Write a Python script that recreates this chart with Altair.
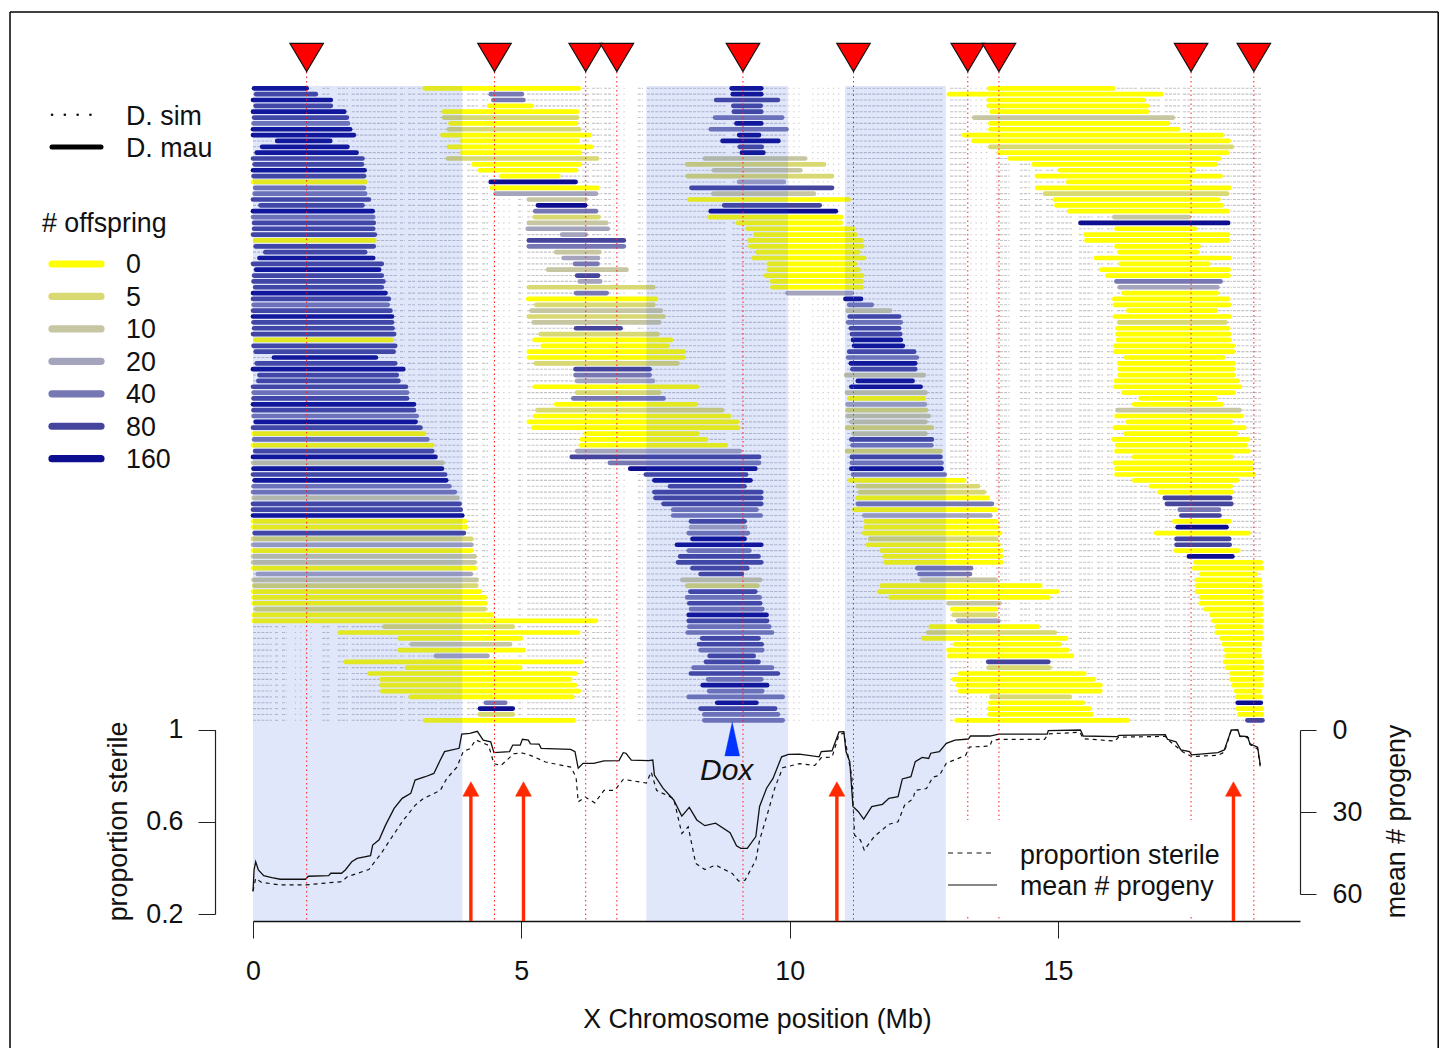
import altair as alt
import pandas as pd

FONT = "Liberation Sans"
FS = 26.8

# genotype blocks per backcross line (start Mb, end Mb, # offspring class)
BLOCK_A = [(0.02,1.0,160),(0.06,1.17,80),(0,1.45,160),(0.05,1.45,80),(0,1.70,160),(0.02,1.75,80),(0.01,1.77,40),(0,1.81,160),(0,1.88,160),(0.45,1.44,160),
(0.17,1.76,160),(0.07,1.93,160),(0,2.04,80),(0.03,2.03,80),(0,2.08,160),(0.01,2.07,80),(0,2.09,0),(0.04,2.07,40),(0.03,2.09,40),(0,2.16,80),
(0.14,2.04,80),(0,2.23,160),(0,2.24,40),(0.02,2.25,80),(0.02,2.24,80),(0,2.27,80),(0.04,2.26,0),(0.05,2.25,80),(0.23,2.09,80),(0.12,2.24,160),
(0,2.40,80),(0.06,2.35,160),(0.02,2.40,80),(0.01,2.43,80),(0.04,2.40,80),(0,2.47,160),(0,2.53,80),(0.01,2.51,40),(0,2.56,80),(0,2.59,160),
(0.01,2.59,80),(0.02,2.60,80),(0,2.63,80),(0.05,2.58,0),(0.01,2.65,80),(0.05,2.62,80),(0.39,2.29,160),(0.07,2.65,80),(0,2.80,160),(0.12,2.68,80),
(0.10,2.71,80),(0,2.85,80),(0.01,2.87,40),(0.01,2.87,80),(0,3.0,160),(0.01,3.0,80),(0.01,3.05,40),(0.05,3.03,160),(0,3.12,80),(0.01,3.19,0),
(0.02,3.25,40),(0,3.34,0),(0.04,3.34,80),(0,3.40,160),(0,3.53,10),(0.01,3.52,160),(0,3.58,80),(0.03,3.60,160),(0.01,3.66,40),(0,3.76,40),
(0.01,3.81,10),(0,3.85,80),(0,3.87,80),(0,3.90,160),(0,3.95,0),(0,3.97,0),(0.03,3.93,80),(0,4.07,5),(0,4.07,20),(0,4.07,0),
(0,4.13,10),(0,4.13,10),(0,4.13,0),(0.09,4.06,20),(0.01,4.17,10),(0.02,4.16,5),(0,4.23,0),(0.01,4.32,0),(0.01,4.33,0),(0.06,4.32,5),
(0.01,4.45,0),(0.01,6.39,0),(2.45,4.84,5),(1.62,6.06,0),(2.73,4.99,0),(2.96,4.79,10),(2.73,5.04,0),(3.41,4.37,20),(1.73,6.11,0),(2.87,4.98,0),
(2.17,6.01,0),(2.39,5.91,0),(2.39,6.0,0),(2.41,6.07,0),(2.94,5.95,0),(4.34,4.70,40),(4.23,4.84,160),(4.23,4.84,5),(3.21,5.98,0)]

BLOCK_B = [(3.2,6.07,0),(4.43,5.01,40),(4.48,5.04,40),(4.40,5.18,0),(3.56,6.04,0),(3.56,6.04,5),(3.68,6.02,0),(3.65,6.08,5),(3.53,6.27,0),(3.9,6.05,0),
(3.65,6.31,0),(3.9,6.09,0),(3.63,6.41,5),(4.11,6.09,0),(4.23,6.02,0),(4.63,5.69,0),(4.43,6.01,160),(4.45,6.42,0),(4.52,6.39,20),(5.14,6.2,10),
(5.31,6.19,160),(5.26,6.39,40),(5.25,6.44,5),(5.14,6.58,10),(5.12,6.61,20),(5.76,6.2,20),(5.14,6.91,80),(5.14,6.91,40),(5.65,6.45,10),(5.79,6.43,20),
(6.0,6.42,40),(5.5,6.96,10),(6.04,6.43,80),(6.09,6.47,20),(5.14,7.46,5),(6.02,6.59,40),(5.13,7.51,0),(5.28,7.46,5),(5.19,7.6,10),(5.14,7.65,5),
(5.23,7.57,10),(6.02,6.85,80),(5.36,7.54,5),(5.25,7.79,0),(5.4,7.72,0),(5.14,8.02,0),(5.14,8.02,0),(5.27,7.91,5),(6.01,7.39,80),(6.01,7.39,40),
(6.04,7.45,20),(5.25,8.27,0),(6.04,7.57,5),(5.97,7.65,40),(5.65,8.25,0),(5.3,8.74,5),(5.26,8.87,0),(5.14,9.02,0),(5.22,9.04,0),(6.2,8.28,0),
(6.13,8.44,0),(6.11,8.81,0),(6.04,9.07,20),(5.94,9.43,80),(6.65,9.43,40),(7.03,9.36,160),(7.32,9.19,80),(7.48,9.27,160),(7.77,9.16,80),(7.48,9.47,80),
(7.5,9.47,80),(7.65,9.47,80),(7.83,9.38,40),(7.83,9.46,40),(8.16,9.16,80),(8.16,9.17,20),(8.12,9.22,40),(8.19,9.16,160),(7.9,9.47,160),(8.12,9.25,40),
(7.96,9.42,80),(7.92,9.47,80),(8.19,9.21,80),(8.34,9.11,80),(8.0,9.45,10),(8.09,9.4,5),(8.15,9.36,80),(8.09,9.44,40),(8.13,9.45,80),(8.16,9.49,40),
(8.12,9.57,160),(8.12,9.58,80),(8.13,9.62,40),(8.1,9.67,40),(8.37,9.42,80),(8.31,9.48,80),(8.34,9.49,40),(8.51,9.33,80),(8.44,9.42,80),(8.21,9.67,40),
(8.16,9.78,80),(8.48,9.47,40),(8.38,9.58,160),(8.5,9.49,40),(8.12,9.87,40),(8.65,9.38,160),(8.34,9.73,80),(8.41,9.78,40),(8.41,9.87,40)]

BLOCK_C = [(8.92,9.47,160),(8.94,9.47,160),(8.63,9.78,80),(8.95,9.46,80),(8.96,9.47,80),(8.61,9.86,40),(9.01,9.47,160),(8.53,9.94,40),(9.06,9.43,160),(8.75,9.79,160),
(9.07,9.48,80),(9.11,9.51,160),(8.42,10.29,10),(8.09,10.64,5),(8.59,10.2,10),(8.10,10.79,5),(9.06,9.89,20),(8.17,10.79,80),(8.58,10.45,10),(8.13,11.1,0),
(8.78,10.56,80),(8.53,10.86,160),(8.51,10.96,0),(9.04,10.95,0),(9.22,11.18,0),(9.36,11.23,0),(9.25,11.34,0),(9.27,11.35,0),(9.4,11.28,0),(9.33,11.39,0),
(9.61,11.22,0),(9.61,11.28,0),(9.56,11.35,0),(9.67,11.34,0),(9.68,11.34,0),(9.96,11.16,20),(11.04,11.33,160),(11.11,11.53,40),(11.08,11.87,10),(11.12,12.04,80),
(11.09,12.07,40),(11.14,12.04,80),(11.16,12.06,80),(11.18,12.07,160),(11.2,12.11,160),(11.11,12.32,80),(11.09,12.37,40),(11.14,12.34,160),(11.17,12.34,80),(11.05,12.5,10),
(11.27,12.29,160),(11.15,12.44,160),(11.07,12.53,10),(11.12,12.5,0),(11.08,12.52,20),(11.08,12.54,5),(11.08,12.59,10),(11.15,12.53,10),(11.07,12.65,5),(11.19,12.53,10),
(11.15,12.65,80),(11.17,12.64,40),(11.07,12.81,5),(11.16,12.81,80),(11.16,12.83,40),(11.15,12.83,160),(11.18,12.89,40),(11.13,13.25,0),(11.27,13.51,5),(11.31,13.62,5),
(11.27,13.69,0),(11.27,13.77,40),(11.21,13.84,0),(11.39,13.74,20),(11.42,13.85,0),(11.42,13.87,0),(11.39,13.92,0),(11.5,13.85,5),(11.46,13.89,0),(11.72,13.94,0),
(11.77,13.94,0),(11.79,13.94,0),(12.38,13.38,40),(12.42,13.36,40),(12.46,13.84,10),(11.72,14.67,0),(11.67,14.99,0),(11.88,14.82,0),(12.96,13.91,10),(13.03,13.84,0),
(13.06,13.83,5),(13.14,13.89,20),(12.63,14.62,0),(12.58,14.94,5),(12.49,15.15,0),(13.08,15.03,0),(12.96,15.17,0),(12.97,15.26,0),(13.70,14.82,80),(13.71,14.84,5),
(13.17,15.49,0),(13.06,15.67,0),(13.14,15.79,0),(13.17,15.79,0),(13.76,15.22,5),(13.74,15.46,0),(13.72,15.58,0),(13.73,15.62,0),(13.11,16.3,0)]

BLOCK_D = [(13.72,16.03,0),(12.97,16.92,0),(13.71,16.59,0),(13.71,16.66,0),(13.76,16.66,0),(13.44,17.14,10),(13.74,17.05,0),(13.74,17.24,0),(13.25,18.06,0),(13.43,18.18,0),
(13.74,18.24,5),(13.9,18.15,0),(14.1,18.0,0),(14.55,17.94,0),(15.04,17.52,0),(14.61,18.03,0),(15.19,17.46,0),(14.61,18.19,0),(14.76,18.15,5),(14.94,17.99,0),
(14.97,18.05,0),(15.21,18.16,0),(16.05,17.44,10),(15.42,18.17,160),(16.09,17.55,0),(15.51,18.17,0),(15.53,18.17,0),(16.09,17.62,0),(16.15,17.59,0),(15.71,18.19,0),
(16.17,17.8,0),(15.81,18.18,0),(15.92,18.18,0),(16.09,18.03,40),(16.15,17.97,20),(16.22,17.96,0),(16.05,18.17,0),(16.06,18.19,0),(16.31,17.94,0),(16.06,18.2,0),
(16.14,18.12,5),(16.11,18.17,0),(16.11,18.19,0),(16.12,18.2,0),(16.07,18.26,0),(16.07,18.26,0),(16.27,18.08,0),(16.14,18.27,0),(16.15,18.26,0),(16.15,18.27,0),
(16.08,18.34,0),(16.07,18.39,0),(16.22,18.27,0),(16.54,17.93,0),(16.42,18.05,0),(16.11,18.38,10),(16.09,18.42,0),(16.3,18.22,0),(16.06,18.47,0),(16.26,18.32,0),
(16.04,18.54,0),(16.1,18.5,0),(16.09,18.55,0),(16.42,18.23,0),(16.06,18.6,0),(16.09,18.61,0),(16.09,18.65,0),(16.42,18.34,0),(16.73,18.22,0),(16.9,18.23,0),
(16.99,18.21,80),(17.03,18.23,80),(17.27,18.0,40),(17.3,18.01,80),(17.17,18.19,0),(17.23,18.14,160),(16.83,18.55,0),(17.21,18.19,80),(17.21,18.2,80),(17.2,18.36,0),
(17.44,18.25,160),(17.56,18.78,0),(17.54,18.8,0),(17.67,18.69,0),(17.59,18.76,0),(17.59,18.77,0),(17.59,18.78,0),(17.67,18.78,0),(17.66,18.78,0),(17.75,18.8,0),
(17.86,18.78,0),(17.9,18.8,0),(17.96,18.78,0),(17.96,18.78,0),(18.05,18.8,0),(18.09,18.76,0),(18.13,18.76,0),(18.14,18.76,0),(18.11,18.8,0),(18.15,18.8,0),
(18.23,18.78,0),(18.23,18.78,0),(18.27,18.8,0),(18.32,18.76,0),(18.34,18.78,0),(18.35,18.78,160),(18.35,18.8,0),(18.38,18.8,0),(18.53,18.81,80)]

# D. sim marker clusters (Mb)
DENSE = [(0,.35),(.41,.47),(.54,.63),(1.29,1.43),(1.58,1.77),(1.84,2.68),(2.74,2.83),(2.89,3.02),(3.07,3.43),(3.48,3.91),(3.99,4.19),(4.27,4.38),
(4.94,5.03),(5.11,6.09),(6.13,6.28),(6.32,6.5),(6.54,6.69),(7.17,7.27),(7.34,8.83),(8.93,9.95),(11.07,12.86),(12.99,13.27),(13.84,14.1),(14.29,14.48),
(14.57,14.72),(14.78,14.94),(14.98,15.26),(15.39,15.65),(15.73,15.84),(15.91,16.02),(16.1,16.49),(16.53,16.9),(16.99,17.27),(17.33,17.46),(17.51,17.78),(17.83,18.24),(18.26,18.8)]
SPARSE = [(.78,1.16),(4.47,4.81),(6.71,6.97),(9.97,10.25),(10.42,10.99),(13.27,13.73)]

SHADES = [(0,3.9),(7.33,9.97),(11.03,12.91)]
MARKERS_FULL = [1.0,4.5,6.2,6.78,9.13,11.19,18.65]
MARKERS_CUT = [13.32,13.9,17.48]
ARROWS = [4.06,5.04,10.88,18.27]
DOX = [8.93]

PROGENY_X = [0,.02,.05,.10,.20,.35,.51,.98,1.03,1.41,1.45,1.65,1.72,1.84,1.94,2.19,2.23,2.35,2.47,2.63,2.78,2.94,3.02,3.21,3.37,3.49,3.57,3.84,3.89,4.04,4.18,4.29,4.43,4.49,4.78,4.84,4.98,5.02,5.13,5.17,5.33,5.37,5.92,6.0,6.06,6.15,6.35,6.54,6.82,6.9,6.95,7.05,7.37,7.45,7.48,7.64,7.84,7.99,8.13,8.27,8.42,8.62,8.89,9.01,9.09,9.21,9.37,9.44,9.57,9.69,9.85,9.98,10.18,10.55,10.59,10.79,10.92,11.01,11.05,11.12,11.18,11.28,11.38,11.53,11.73,11.85,12.02,12.1,12.26,12.34,12.47,12.59,12.63,12.79,12.92,13.08,13.33,13.37,13.73,13.9,14.8,14.82,15.42,15.47,16.1,16.14,17.0,17.04,17.2,17.29,17.45,17.49,17.98,18.1,18.23,18.35,18.39,18.53,18.58,18.72,18.77]
PROGENY_Y = [59.1,51.2,48.2,51.2,53.3,54,54.6,54.6,53.5,53.3,52.4,52.4,51.2,48.2,47,46,42.1,40.2,34.8,28.7,25,23.2,18.3,17.1,15.9,11,7.9,6.7,1.5,1.2,.5,3.7,4.3,8.3,7.9,5.5,5.5,3.4,3.7,5.1,5.2,6.7,7.1,7.9,14,12.2,12.2,11.3,11.2,8.3,8.5,11,11.2,11,16.5,21.3,25.6,31.5,28.3,32.9,35,34.1,37.6,42.4,43.3,43.3,39,28,21.3,17.7,9.8,8.9,8.8,9.8,7.9,7.6,.7,.6,7.9,11.6,28,29.9,32.6,28,27.2,25,24.4,17.9,17.1,11.6,10,10.4,8.5,7.9,4.9,3.7,3.3,2.2,2.2,1.5,1.5,.2,0,2.2,2.4,2,1.7,3.4,4.3,7.3,7.9,9.1,8.3,7.3,0,0,2.2,2.4,5.1,6.3,12.8]
STERILE_X = [0,.05,.16,.51,.98,1.29,1.65,1.76,2.16,2.27,2.39,2.55,2.78,3.02,3.17,3.49,3.61,3.8,3.92,4.04,4.15,4.39,4.49,4.62,4.86,5.02,5.17,5.45,5.92,6.02,6.06,6.19,6.37,6.54,6.74,6.9,7.33,7.42,7.52,7.84,7.99,8.11,8.25,8.42,8.62,8.93,9.05,9.17,9.37,9.44,9.57,9.73,9.87,10.18,10.47,10.59,10.79,10.92,11.01,11.08,11.16,11.21,11.32,11.39,11.58,11.85,12.02,12.14,12.3,12.34,12.55,12.67,12.79,12.92,13.28,13.35,13.73,13.77,13.9,14.75,14.82,15.41,15.47,16.06,16.13,17.0,17.08,17.33,17.49,17.98,18.1,18.23,18.35,18.39,18.55,18.58,18.72,18.77]
STERILE_Y = [.30,.354,.337,.326,.326,.333,.34,.362,.393,.427,.463,.52,.60,.671,.70,.736,.787,.837,.906,.916,.955,.931,.852,.844,.895,.898,.888,.859,.837,.794,.686,.707,.682,.736,.736,.784,.768,.816,.736,.70,.549,.578,.419,.393,.412,.376,.343,.347,.434,.52,.621,.751,.834,.852,.844,.878,.88,.978,.984,.895,.794,.542,.52,.477,.537,.589,.60,.671,.70,.736,.744,.794,.801,.854,.888,.924,.928,.952,.957,.957,.981,.988,.96,.95,.967,.97,.95,.902,.883,.888,.902,.999,.999,.97,.964,.935,.916,.837]

CLASSES = [0,5,10,20,40,80,160]
CLASS_COLORS = ["#ffff00","#d9d973","#c6c6a3","#a4a4bd","#7777b3","#45459d","#0e0e90"]
CHART_BLUE = "#2b56e6"
RED = "#ff1a1a"
ARROW_RED = "#ff2a00"

W, H, LEFT, TOP = 1047, 881, 253, 40
px = lambda v: v - LEFT
py = lambda v: v - TOP
one = pd.DataFrame({"a": [0]})

bars = pd.DataFrame([
    {"row": k, "start": s, "end": e, "cls": c}
    for block in (BLOCK_A, BLOCK_B, BLOCK_C, BLOCK_D)
    for k, (s, e, c) in enumerate(block)
])
nrows = len(BLOCK_A)
dense = pd.DataFrame([{"row": k, "start": s, "end": e} for k in range(nrows) for s, e in DENSE])
sparse = pd.DataFrame([{"row": k, "start": s, "end": e} for k in range(nrows) for s, e in SPARSE])

xaxis = alt.Axis(values=[0,5,10,15], tickSize=17, tickColor="#222", tickWidth=1, domainColor="#111", domainWidth=1.3,
                 grid=False, labelFont=FONT, labelFontSize=FS, labelColor="#111", labelPadding=20, labelFlush=False,
                 title="X Chromosome position (Mb)", titleFont=FONT, titleFontSize=FS, titleFontWeight="normal", titleColor="#111",
                 titleX=504, titleY=106, titleBaseline="alphabetic", titleAlign="center")
xs = alt.Scale(domain=[0, 19.51], nice=False, zero=False)
X = lambda f: alt.X(f, type="quantitative", scale=xs, axis=xaxis)
X2 = lambda f: alt.X2(f)
rowy = alt.Y("row:Q", scale=alt.Scale(domain=[0, 108], range=[py(88.3), py(720.3)], nice=False, zero=False), axis=None)

l_dense = alt.Chart(dense).mark_rule(stroke="#b4b4ba", strokeWidth=1.1, opacity=0.8, strokeDash=[3, 1.2]).encode(x=X("start"), x2=X2("end"), y=rowy)
l_sparse = alt.Chart(sparse).mark_rule(stroke="#b4b4ba", strokeWidth=1.1, opacity=0.7, strokeDash=[1.2, 4]).encode(x=X("start"), x2=X2("end"), y=rowy)
l_bars = alt.Chart(bars).mark_rule(strokeWidth=4.7, strokeCap="round").encode(
    x=X("start"), x2=X2("end"), y=rowy,
    color=alt.Color("cls:N", scale=alt.Scale(domain=CLASSES, range=CLASS_COLORS), legend=None))
l_shade = alt.Chart(pd.DataFrame(SHADES, columns=["a0", "a1"])).mark_rect(fill=CHART_BLUE, opacity=0.14).encode(
    x=X("a0"), x2=X2("a1"), y=alt.value(py(86)), y2=alt.value(py(921)))

l_mfull = alt.Chart(pd.DataFrame({"mb": MARKERS_FULL})).mark_rule(stroke=RED, strokeWidth=1, strokeDash=[1.5, 3]).encode(
    x=X("mb"), y=alt.value(py(72)), y2=alt.value(py(921)))
l_mcut = alt.Chart(pd.DataFrame({"mb": MARKERS_CUT})).mark_rule(stroke=RED, strokeWidth=1, strokeDash=[1.5, 3]).encode(
    x=X("mb"), y=alt.value(py(72)), y2=alt.value(py(820)))
l_mcut2 = alt.Chart(pd.DataFrame({"mb": MARKERS_CUT})).mark_rule(stroke=RED, strokeWidth=1, strokeDash=[1.5, 3]).encode(
    x=X("mb"), y=alt.value(py(917)), y2=alt.value(py(921)))
l_tri = alt.Chart(pd.DataFrame({"mb": MARKERS_FULL + MARKERS_CUT})).mark_point(
    shape="M-1,-0.84 L1,-0.84 L0,0.84 Z", filled=True, fill="#ff0000", stroke="#111", strokeWidth=1.2, size=1120, opacity=1).encode(
    x=X("mb"), y=alt.value(py(57.5)))

l_prog = alt.Chart(pd.DataFrame({"mb": PROGENY_X, "progeny": PROGENY_Y})).mark_line(stroke="#111", strokeWidth=1.3).encode(
    x=X("mb"), order=alt.Order("mb:Q"),
    y=alt.Y("progeny:Q", scale=alt.Scale(domain=[0, 60], range=[py(730), py(894)], nice=False, zero=False),
            axis=alt.Axis(orient="right", values=[0,30,60], tickSize=16, tickColor="#222", domainColor="#222", grid=False,
                          labelFont=FONT, labelFontSize=FS, labelColor="#111", labelPadding=16, labelFlush=False,
                          title="mean # progeny", titleFont=FONT, titleFontSize=FS, titleFontWeight="normal", titleColor="#111",
                          titleX=104, titleY=781, titleAngle=-90, titleBaseline="alphabetic", titleAlign="center")))
l_ster = alt.Chart(pd.DataFrame({"mb": STERILE_X, "sterile": STERILE_Y})).mark_line(stroke="#111", strokeWidth=1.2, strokeDash=[4, 4]).encode(
    x=X("mb"), order=alt.Order("mb:Q"),
    y=alt.Y("sterile:Q", scale=alt.Scale(domain=[0.2, 1], range=[py(914), py(729.5)], nice=False, zero=False),
            axis=alt.Axis(orient="left", offset=38, values=[0.2,0.6,1], format="~g", tickSize=17, tickColor="#222", domainColor="#222", grid=False,
                          labelFont=FONT, labelFontSize=FS, labelColor="#111", labelPadding=15, labelFlush=False,
                          title="proportion sterile", titleFont=FONT, titleFontSize=FS, titleFontWeight="normal", titleColor="#111",
                          titleX=-89, titleY=781, titleAngle=-90, titleBaseline="alphabetic", titleAlign="center")))

l_shaft = alt.Chart(pd.DataFrame({"mb": ARROWS})).mark_rule(stroke=ARROW_RED, strokeWidth=3.4).encode(
    x=X("mb"), y=alt.value(py(795)), y2=alt.value(py(921)))
l_head = alt.Chart(pd.DataFrame({"mb": ARROWS})).mark_point(
    shape="M-1,0.9 L1,0.9 L0,-0.9 Z", filled=True, fill=ARROW_RED, stroke=ARROW_RED, strokeWidth=0.5, size=256, opacity=1).encode(
    x=X("mb"), y=alt.value(py(789)))
l_dox = alt.Chart(pd.DataFrame({"mb": DOX})).mark_point(
    shape="M-0.44,1 L0.44,1 L0,-1 Z", filled=True, fill="#0033ff", stroke="#0033ff", strokeWidth=0.3, size=1156, opacity=1).encode(
    x=X("mb"), y=alt.value(py(739)))

def txt(s, x, y, size=FS, italic=False):
    return alt.Chart(one).mark_text(font=FONT, fontSize=size, color="#111", align="left", baseline="alphabetic",
                                    fontStyle="italic" if italic else "normal").encode(
        x=alt.value(px(x)), y=alt.value(py(y)), text=alt.value(s))

def hrule(x0, x1, y, **kw):
    return alt.Chart(one).mark_rule(**kw).encode(x=alt.value(px(x0)), x2=alt.value(px(x1)), y=alt.value(py(y)))

FRAME_R = 1438.2
deco = [
    txt("Dox", 700, 780, 30, True),
    hrule(52, 92, 114.7, stroke="#111", strokeWidth=2.6, strokeCap="round", strokeDash=[0.1, 12.7]),
    txt("D. sim", 126, 124.5),
    hrule(52, 101, 147, stroke="#000", strokeWidth=5, strokeCap="round"),
    txt("D. mau", 126, 157),
    txt("# offspring", 42, 232),
    hrule(948, 995, 853, stroke="#111", strokeWidth=1.1, strokeDash=[5, 4.5]),
    hrule(948, 997, 885, stroke="#111", strokeWidth=1.1),
    txt("proportion sterile", 1020, 863.5),
    txt("mean # progeny", 1020, 895),
    # page frame
    hrule(10, FRAME_R, 12, stroke="#000", strokeWidth=1.5),
    alt.Chart(one).mark_rule(stroke="#000", strokeWidth=1.5).encode(x=alt.value(px(10)), y=alt.value(py(12)), y2=alt.value(py(1048))),
    alt.Chart(one).mark_rule(stroke="#000", strokeWidth=1.5).encode(x=alt.value(px(FRAME_R)), y=alt.value(py(12)), y2=alt.value(py(1048))),
]
for i, (c, col) in enumerate(zip(CLASSES, CLASS_COLORS)):
    y = 264 + i * 32.45
    deco.append(hrule(52, 101, y, stroke=col, strokeWidth=7.2, strokeCap="round"))
    deco.append(txt(str(c), 126, y + 9.3))

chart = alt.layer(
    l_dense, l_sparse, l_bars, l_shade, l_prog, l_ster, l_mfull, l_mcut, l_mcut2, l_tri, l_shaft, l_head, l_dox, *deco
).resolve_scale(y="independent").properties(
    width=W, height=H,
    padding={"left": LEFT - 8, "top": TOP - 8, "right": 1431 - (LEFT - 8) - W, "bottom": 1040 - (TOP - 8) - H},
    autosize=alt.AutoSizeParams(type="none"),
).configure_view(stroke=None).configure_axis(domainWidth=1.2)

chart.save("out.html", embed_options={"renderer": "svg", "actions": False})
